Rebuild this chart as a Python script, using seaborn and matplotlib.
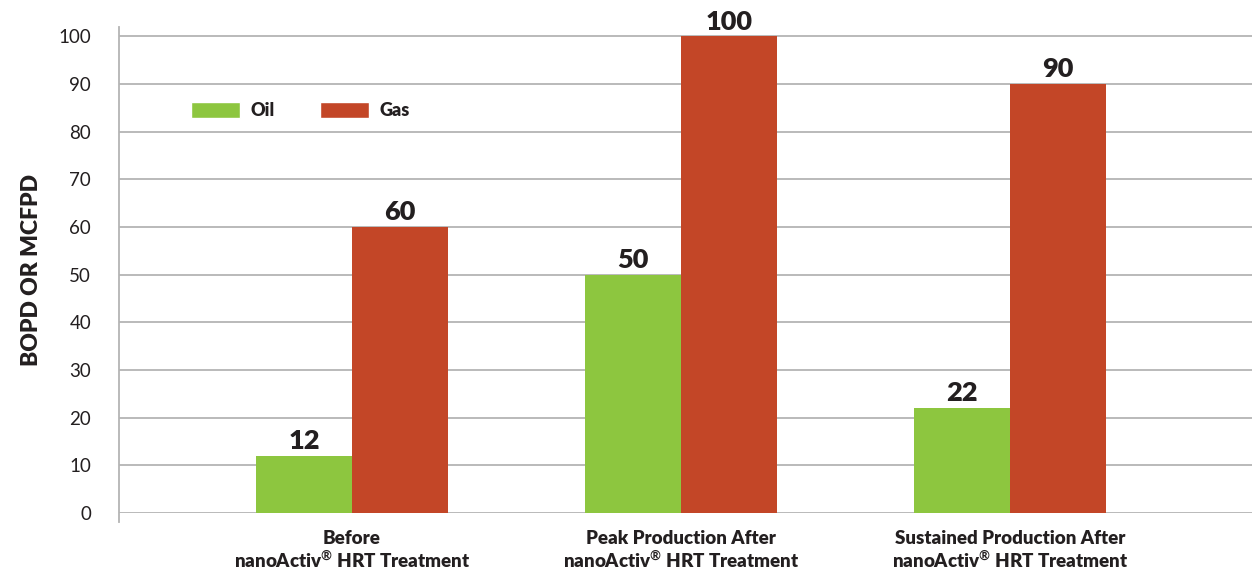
import matplotlib
matplotlib.use("Agg")
import matplotlib.pyplot as plt
import seaborn as sns
import pandas as pd
from matplotlib.patches import Patch

# Production data
categories = [
    "Before\nnanoActiv$^{\\circledR}$ HRT Treatment",
    "Peak Production After\nnanoActiv$^{\\circledR}$ HRT Treatment",
    "Sustained Production After\nnanoActiv$^{\\circledR}$ HRT Treatment",
]
oil_values = [12, 50, 22]
gas_values = [60, 100, 90]
series_names = ["Oil", "Gas"]
y_ticks = list(range(0, 101, 10))

GREEN = "#8DC63F"
RED = "#C34627"
GRID = "#b4b4b4"
TEXT = "#231f20"

sns.set_theme(style="white")
plt.rcParams["font.family"] = ["Lato", "DejaVu Sans"]
plt.rcParams["mathtext.fontset"] = "custom"
plt.rcParams["mathtext.rm"] = "Lato:bold"
plt.rcParams["mathtext.bf"] = "Lato:bold"

df = pd.DataFrame({
    "category": categories * 2,
    "series": [series_names[0]] * 3 + [series_names[1]] * 3,
    "value": oil_values + gas_values,
})

fig = plt.figure(figsize=(12.52, 5.71), dpi=100)
ax = fig.add_axes([0.095, 0.1016, 0.905, 0.8504])

sns.barplot(data=df, x="category", y="value", hue="series",
            palette=[GREEN, RED], width=0.584, saturation=1,
            dodge=True, ax=ax, legend=False, zorder=3,
            linewidth=0, edgecolor="none")

ax.set_ylim(0, 101.9)
ax.set_xlim(-0.708, 2.735)
ax.set_yticks(y_ticks)
ax.yaxis.grid(True, color=GRID, linewidth=1.3, zorder=0)
ax.xaxis.grid(False)

for side in ["top", "right", "bottom"]:
    ax.spines[side].set_visible(False)
ax.spines["left"].set_color(GRID)
ax.spines["left"].set_linewidth(1.3)
ax.spines["left"].set_bounds(-1.9, 101.9)

ax.tick_params(axis="y", length=12, width=1.3, color=GRID, pad=8,
               labelsize=13.5, labelcolor=TEXT)
ax.tick_params(axis="x", length=9, width=1.3, color=GRID, pad=3,
               labelsize=13.5, labelcolor=TEXT)
for lbl in ax.get_xticklabels():
    lbl.set_fontweight("heavy")
    lbl.set_linespacing(1.1)

ax.set_xlabel("")
ax.set_ylabel("BOPD OR MCFPD", fontsize=16.5, fontweight="heavy", color=TEXT,
              labelpad=12)

# Value labels on top of each bar
for container in ax.containers:
    ax.bar_label(container, fmt="%d", padding=2, fontsize=19.5,
                 fontweight="heavy", color=TEXT)

handles = [Patch(facecolor=GREEN, label=series_names[0]),
           Patch(facecolor=RED, label=series_names[1])]
leg = ax.legend(handles=handles, loc="upper left", bbox_to_anchor=(0.049, 0.88),
                ncol=2, frameon=False, handlelength=2.75, handleheight=1.0,
                columnspacing=2.5, handletextpad=0.55,
                prop={"size": 13, "weight": "heavy"})
for t in leg.get_texts():
    t.set_color(TEXT)

fig.savefig("out.png", dpi=100, facecolor="white")
